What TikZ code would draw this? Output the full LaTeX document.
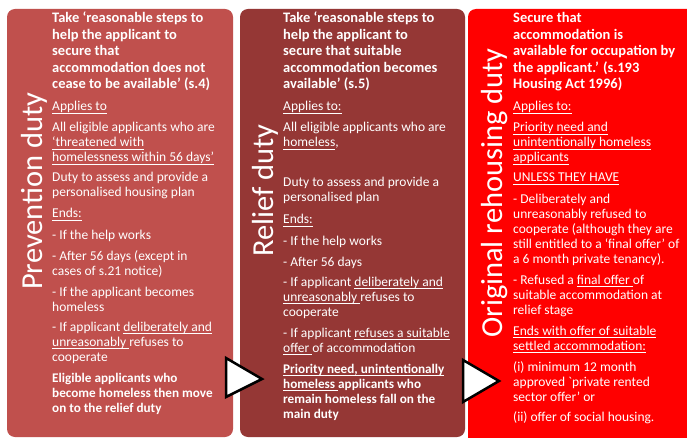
\documentclass[tikz,border=0pt]{standalone}
\usepackage{fontspec}
\setmainfont{Carlito}
\newcommand\uln[1]{\setbox0\hbox{#1}\rlap{\rule[-2.4pt]{\wd0}{0.7pt}}\box0}
\definecolor{boxA}{RGB}{192,80,77}
\definecolor{boxB}{RGB}{149,55,53}
\definecolor{boxC}{RGB}{255,0,0}
\begin{document}
\begin{tikzpicture}[x=1pt,y=-1pt,
  panel/.style={rounded corners=8pt},
  body/.style={anchor=base west, inner sep=0pt, align=left, text=white, font=\fontsize{13.5}{15}\selectfont},
  head/.style={body, font=\fontsize{14.5}{16.5}\selectfont\bfseries},
  boldbody/.style={body, font=\fontsize{13.2}{15}\selectfont\bfseries},
  vtitle/.style={anchor=base west, inner sep=0pt, rotate=90, text=white, font=\fontsize{30.5}{31}\selectfont},
  pointer/.style={draw=black, fill=white, line width=2.5pt, line join=miter}]
\useasboundingbox (0,0) rectangle (687,438);
\fill[white] (0,0) rectangle (687,438);
\clip (0,0) rectangle (687,438);
% panels
\fill[boxA, panel] (7,9) rectangle (233,437);
\fill[boxB, panel] (240,9) rectangle (465,437);
\fill[boxC, panel] (468,9) rectangle (700,450);
% vertical titles
\node[vtitle] (pTitle) at (42,290) {Prevention duty};
\node[vtitle] (rTitle) at (273,257) {Relief duty};
\node[vtitle] (oTitle) at (502,338) {Original rehousing duty};
% prevention (positions are the baseline of each paragraph's last line)
\node[head] (pHead) at (52,89) {Take ‘reasonable steps to\\help the applicant to\\secure that\\accommodation does not\\cease to be available’ (s.4)};
\node[body] (pApp) at (52,111) {\uln{Applies to}};
\node[body] (pWho) at (52,162) {All eligible applicants who are\\\uln{‘threatened with}\\\uln{homelessness within 56 days’}};
\node[body] (pDuty) at (52,197) {Duty to assess and provide a\\personalised housing plan};
\node[body] (pEnds) at (52,218) {\uln{Ends:}};
\node[body] (pE1) at (52,239) {- If the help works};
\node[body] (pE2) at (52,275) {- After 56 days (except in\\cases of s.21 notice)};
\node[body] (pE3) at (52,311) {- If the applicant becomes\\homeless};
\node[body] (pE4) at (52,361) {- If applicant \uln{deliberately and}\\\uln{unreasonably }refuses to\\cooperate};
\node[boldbody] (pNext) at (52,412) {Eligible applicants who\\become homeless then move\\on to the relief duty};
% relief
\node[head] (rHead) at (283,89) {Take ‘reasonable steps to\\help the applicant to\\secure that suitable\\accommodation becomes\\available’ (s.5)};
\node[body] (rApp) at (283,111) {\uln{Applies to:}};
\node[body] (rWho) at (283,147) {All eligible applicants who are\\\uln{homeless},};
\node[body] (rDuty) at (283,202) {Duty to assess and provide a\\personalised plan};
\node[body] (rEnds) at (283,224) {\uln{Ends:}};
\node[body] (rE1) at (283,245) {- If the help works};
\node[body] (rE2) at (283,266) {- After 56 days};
\node[body] (rE3) at (283,316) {- If applicant \uln{deliberately and}\\\uln{unreasonably }refuses to\\cooperate};
\node[body] (rE4) at (283,352) {- If applicant \uln{refuses a suitable}\\\uln{offer }of accommodation};
\node[boldbody] (rNext) at (283,418) {\uln{Priority need, unintentionally}\\\uln{homeless }applicants who\\remain homeless fall on the\\main duty};
% original rehousing
\node[head] (oHead) at (513,89) {Secure that\\accommodation is\\available for occupation by\\the applicant.’ (s.193\\Housing Act 1996)};
\node[body] (oApp) at (513,111) {\uln{Applies to:}};
\node[body] (oWho) at (513,162) {\uln{Priority need and}\\\uln{unintentionally homeless}\\\uln{applicants}};
\node[body] (oUnless) at (513,182) {\uln{UNLESS THEY HAVE}};
\node[body] (oX1) at (513,263) {- Deliberately and\\unreasonably refused to\\cooperate (although they are\\still entitled to a ‘final offer’ of\\a 6 month private tenancy).};
\node[body] (oX2) at (513,314) {- Refused a \uln{final offer }of\\suitable accommodation at\\relief stage};
\node[body] (oEnds) at (513,350) {\uln{Ends with offer of suitable}\\\uln{settled accommodation:}};
\node[body] (oI) at (513,401) {(i) minimum 12 month\\approved \textasciigrave private rented\\sector offer’ or};
\node[body] (oII) at (513,421) {(ii) offer of social housing.};
% pointers
\draw[pointer] (226,358) -- (262,379) -- (226,397) -- cycle;
\draw[pointer] (463,360) -- (499,381) -- (463,402) -- cycle;
\end{tikzpicture}
\end{document}
